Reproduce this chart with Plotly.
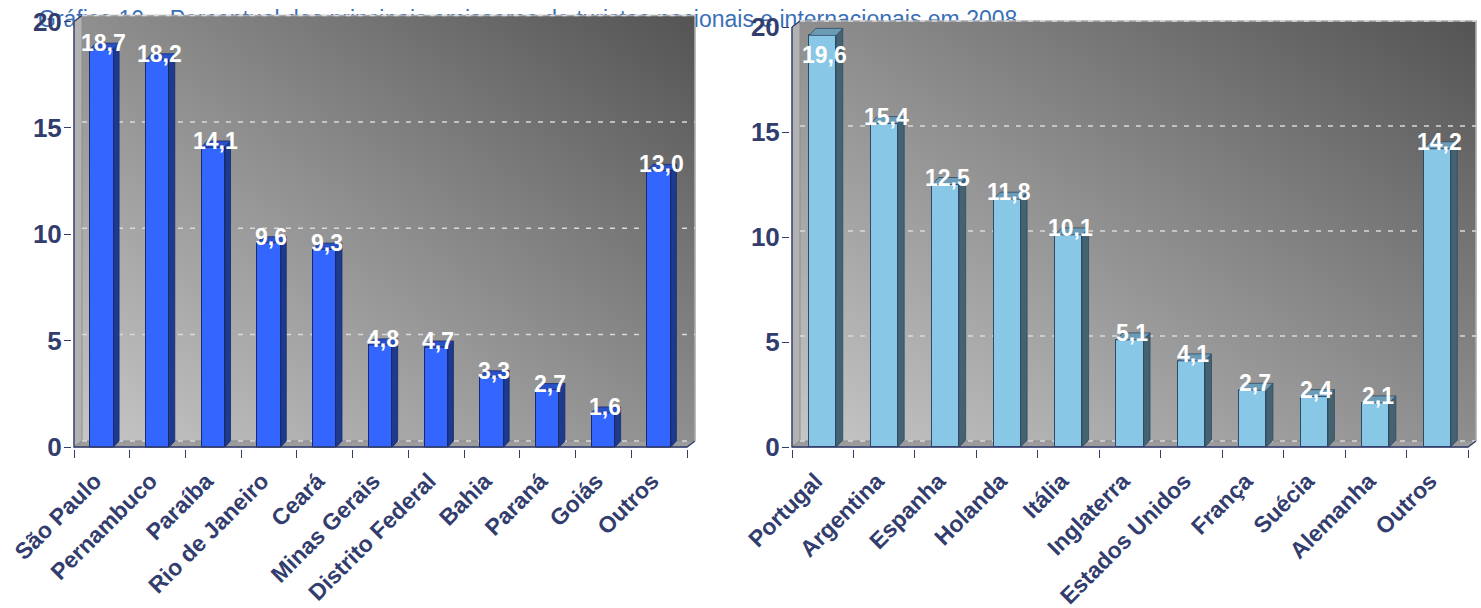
import numpy as np
import plotly.graph_objects as go

# ---------------------------------------------------------------- data
TITLE = ("Gráfico 10 – Percentual dos principais emissores de turistas "
         "nacionais e internacionais em 2008")

estados = ["São Paulo", "Pernambuco", "Paraíba", "Rio de Janeiro", "Ceará",
           "Minas Gerais", "Distrito Federal", "Bahia", "Paraná", "Goiás",
           "Outros"]
pct_estados = [18.7, 18.2, 14.1, 9.6, 9.3, 4.8, 4.7, 3.3, 2.7, 1.6, 13.0]

paises = ["Portugal", "Argentina", "Espanha", "Holanda", "Itália",
          "Inglaterra", "Estados Unidos", "França", "Suécia", "Alemanha",
          "Outros"]
pct_paises = [19.6, 15.4, 12.5, 11.8, 10.1, 5.1, 4.1, 2.7, 2.4, 2.1, 14.2]

y_ticks = [0, 5, 10, 15, 20]
Y_MAX = 20

# ---------------------------------------------------------------- style
W, H = 1481, 608
FONT = "Arial, Liberation Sans, sans-serif"
NAVY = "#323D6E"
TITLE_BLUE = "#3A6FB8"

panels = [
    dict(cats=estados, vals=pct_estados, back="2", front="4",
         x0=74, x1=687, yz=447, y20=21.5, wall_dx=8, wall_dy=6,
         bar_dx=5.5, bar_dy=6, bar_w=0.42,
         face="#3366FF", side="#1C3A8E", top="#2A50C8", edge="#1B2A6B",
         label_up=6, label_max=None),
    dict(cats=paises, vals=pct_paises, back="3", front="5",
         x0=792, x1=1468, yz=447, y20=27, wall_dx=8, wall_dy=6,
         bar_dx=6.5, bar_dy=7, bar_w=0.44,
         face="#88C7E6", side="#44626F", top="#6C9BB6", edge="#2F4A66",
         label_up=7, label_max=18.33),
]

fig = go.Figure()
layout_axes = {}
annotations = []

# title sits on its own full-page subplot underneath both chart panels
fig.add_trace(go.Scatter(
    x=[38 / W], y=[1 - 21 / H], mode="text", text=[TITLE],
    textposition="middle right", cliponaxis=False,
    textfont=dict(family=FONT, size=23, color=TITLE_BLUE),
    hoverinfo="skip", showlegend=False, xaxis="x", yaxis="y"))
layout_axes["xaxis"] = dict(domain=[0, 1], range=[0, 1], visible=False,
                            automargin=False)
layout_axes["yaxis"] = dict(domain=[0, 1], range=[0, 1], visible=False,
                            automargin=False)


def closed(xs, ys):
    return list(xs) + [None], list(ys) + [None]


for p in panels:
    n = len(p["cats"])
    cat_px = (p["x1"] - p["x0"]) / n
    unit_px = (p["yz"] - p["y20"]) / Y_MAX
    ddx = p["wall_dx"] / cat_px
    ddy = p["wall_dy"] / unit_px
    bdx = p["bar_dx"] / cat_px
    bdy = p["bar_dy"] / unit_px
    left, right = -0.5, n - 0.5

    dom_x = [(p["x0"] - 2) / W, (p["x1"] + p["wall_dx"] + 2) / W]
    dom_y = [(H - (p["yz"] + 2)) / H,
             (H - (p["y20"] - p["wall_dy"] - 2)) / H]
    rng_x = [left - 2 / cat_px, right + (p["wall_dx"] + 2) / cat_px]
    rng_y = [-2 / unit_px, Y_MAX + (p["wall_dy"] + 2) / unit_px]

    bx, by = "x" + p["back"], "y" + p["back"]
    fx, fy = "x" + p["front"], "y" + p["front"]

    # ---- back wall: diagonal grey shading
    nx, ny = 60, 40
    xe = np.linspace(left + ddx, right + ddx, nx + 1)
    ye = np.linspace(ddy, Y_MAX + ddy, ny + 1)
    u = (np.arange(nx) + 0.5) / nx
    v = (np.arange(ny) + 0.5) / ny
    shade = 0.5 * (u[None, :] + v[:, None])
    fig.add_trace(go.Heatmap(
        x=xe, y=ye, z=shade, zmin=0, zmax=1, zsmooth="best",
        colorscale=[[0, "#C6C6C6"], [0.5, "#8E8E8E"], [1, "#545454"]],
        showscale=False, hoverinfo="skip", xaxis=bx, yaxis=by))

    # ---- side wall and floor
    fig.add_trace(go.Scatter(
        x=[left, left + ddx, left + ddx, left, left],
        y=[0, ddy, Y_MAX + ddy, Y_MAX, 0],
        fill="toself", fillcolor="#B2B2B2", mode="lines",
        line=dict(color="#8E8E8E", width=1),
        hoverinfo="skip", showlegend=False, xaxis=bx, yaxis=by))
    fig.add_trace(go.Scatter(
        x=[left, right, right + ddx, left + ddx, left],
        y=[0, 0, ddy, ddy, 0],
        fill="toself", fillcolor="#9C9C9C", mode="lines",
        line=dict(color="#8A8A8A", width=1),
        hoverinfo="skip", showlegend=False, xaxis=bx, yaxis=by))

    # ---- back wall border (top and right)
    fig.add_trace(go.Scatter(
        x=[left + ddx, right + ddx, right + ddx],
        y=[Y_MAX + ddy, Y_MAX + ddy, ddy],
        mode="lines", line=dict(color="#ABABAB", width=1.6),
        hoverinfo="skip", showlegend=False, xaxis=bx, yaxis=by))

    # ---- dashed gridlines on the back wall
    gx, gy = [], []
    for t in y_ticks:
        gx += [left + ddx, right + ddx, None]
        gy += [t + ddy, t + ddy, None]
    fig.add_trace(go.Scatter(
        x=gx, y=gy, mode="lines",
        line=dict(color="#DADADA", width=1.5, dash="5px,7px"),
        hoverinfo="skip", showlegend=False, xaxis=bx, yaxis=by))

    # ---- bars: front faces
    xs = list(range(n))
    fig.add_trace(go.Bar(
        x=xs, y=p["vals"], width=p["bar_w"],
        marker=dict(color=p["face"], line=dict(color=p["edge"], width=1)),
        hoverinfo="skip", showlegend=False, xaxis=fx, yaxis=fy))

    # ---- bars: side and top faces
    sx, sy, tx, ty = [], [], [], []
    hw = p["bar_w"] / 2
    for i, val in zip(xs, p["vals"]):
        a, b = closed([i + hw, i + hw + bdx, i + hw + bdx, i + hw, i + hw],
                      [0, bdy, val + bdy, val, 0])
        sx += a
        sy += b
        a, b = closed([i - hw, i + hw, i + hw + bdx, i - hw + bdx, i - hw],
                      [val, val, val + bdy, val + bdy, val])
        tx += a
        ty += b
    fig.add_trace(go.Scatter(
        x=sx, y=sy, fill="toself", fillcolor=p["side"], mode="lines",
        line=dict(color=p["edge"], width=0.8),
        hoverinfo="skip", showlegend=False, xaxis=fx, yaxis=fy))
    fig.add_trace(go.Scatter(
        x=tx, y=ty, fill="toself", fillcolor=p["top"], mode="lines",
        line=dict(color=p["edge"], width=0.8),
        hoverinfo="skip", showlegend=False, xaxis=fx, yaxis=fy))

    # ---- front axis lines
    fig.add_trace(go.Scatter(
        x=[left, left, right, right + ddx, None, left, left + ddx],
        y=[Y_MAX, 0, 0, ddy, None, Y_MAX, Y_MAX + ddy],
        mode="lines", line=dict(color=NAVY, width=1.3),
        hoverinfo="skip", showlegend=False, xaxis=fx, yaxis=fy))

    # ---- value labels
    for i, val in zip(xs, p["vals"]):
        ly = val if p["label_max"] is None else min(val, p["label_max"])
        annotations.append(dict(
            x=i, y=ly, xref=fx, yref=fy, xshift=2, yshift=p["label_up"],
            text=f"{val:.1f}".replace(".", ","), showarrow=False,
            xanchor="center", yanchor="middle",
            font=dict(family=FONT, size=23, color="white", weight="bold")))

    hidden = dict(visible=False, fixedrange=True, automargin=False)
    layout_axes["xaxis" + p["back"]] = dict(
        domain=dom_x, range=rng_x, anchor=by, **hidden)
    layout_axes["yaxis" + p["back"]] = dict(
        domain=dom_y, range=rng_y, anchor=bx, **hidden)

    layout_axes["xaxis" + p["front"]] = dict(
        domain=dom_x, range=rng_x, anchor=fy, automargin=False,
        tickmode="array", tickvals=xs, ticktext=p["cats"], tickangle=-45,
        ticks="", ticklabelstandoff=13, ticklabelshift=-7,
        tickfont=dict(family=FONT, size=23, color=NAVY, weight="bold"),
        minor=dict(tickmode="array",
                   tickvals=[i - 0.5 for i in range(n + 1)],
                   ticks="outside", ticklen=8, tickwidth=1.2,
                   tickcolor=NAVY, showgrid=False),
        showgrid=False, zeroline=False, showline=False, fixedrange=True)
    layout_axes["yaxis" + p["front"]] = dict(
        domain=dom_y, range=rng_y, anchor=fx, automargin=False,
        tickmode="array", tickvals=y_ticks,
        ticktext=[str(t) for t in y_ticks],
        ticks="outside", ticklen=7, tickwidth=1.3, tickcolor=NAVY,
        ticklabelstandoff=-3,
        tickfont=dict(family=FONT, size=26, color=NAVY, weight="bold"),
        showgrid=False, zeroline=False, showline=False, fixedrange=True)

fig.update_layout(
    width=W, height=H, autosize=False,
    margin=dict(l=0, r=0, t=0, b=0, autoexpand=False),
    paper_bgcolor="white", plot_bgcolor="rgba(0,0,0,0)",
    showlegend=False, bargap=0,
    annotations=annotations,
    **layout_axes)

fig.write_html("out.html", config=dict(displayModeBar=False))
